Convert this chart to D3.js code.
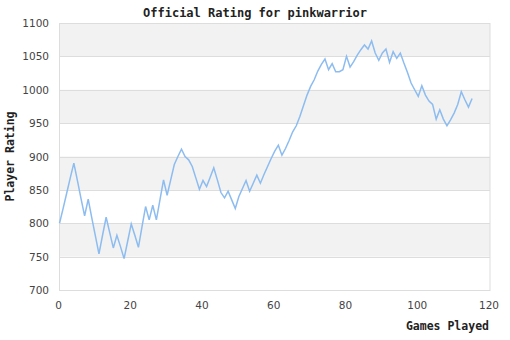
<!DOCTYPE html>
<html>
<head>
<meta charset="utf-8">
<script src="https://cdn.jsdelivr.net/npm/d3@7"></script>
<style>
  body { margin: 0; background: #fff; }
  svg { display: block; }
</style>
</head>
<body>
<div id="chart"></div>
<script>
// rating after each game
var games = d3.range(0, 116);
var ratings = [
  800, 822, 845, 868, 890, 864, 837, 811, 836, 808,
  781, 754, 782, 809, 786, 763, 782, 765, 747, 773,
  799, 782, 764, 795, 825, 805, 827, 805, 835, 865,
  842, 865, 888, 900, 911, 900, 895, 885, 868, 851,
  864, 855, 869, 883, 865, 846, 838, 848, 835, 822,
  840, 852, 864, 848, 860, 872, 860, 873, 885, 897,
  908, 917, 902, 912, 924, 937, 946, 960, 976, 992,
  1005, 1015, 1028, 1038, 1046, 1030, 1039, 1027, 1027, 1030,
  1050, 1034, 1042, 1052, 1060, 1067, 1061, 1073, 1055, 1044,
  1055, 1061, 1041, 1057, 1047, 1055, 1040, 1026, 1010, 1000,
  990, 1006, 992, 983, 978, 956, 970, 956, 946, 955,
  965, 978, 997, 985, 974, 987
];
var xTicks = [0, 20, 40, 60, 80, 100, 120];
var yTicks = [700, 750, 800, 850, 900, 950, 1000, 1050, 1100];

// note: "top" clashes with window.top, so plot edges get their own names
var width = 510, height = 340;
var plotL = 59.5, plotR = 490, plotT = 23, plotB = 290;

var svg = d3.select("#chart").append("svg")
  .attr("width", width)
  .attr("height", height);

var x = d3.scaleLinear().domain([0, 120]).range([plotL, plotR]);
var y = d3.scaleLinear().domain([700, 1100]).range([plotB, plotT]);

// alternating bands, grey on the upper half of each 100
var bands = yTicks.slice(0, -1).filter(d => d % 100 == 50);
svg.selectAll(".band").data(bands).enter().append("rect")
  .attr("class", "band")
  .attr("x", plotL)
  .attr("y", d => y(d + 50))
  .attr("width", plotR - plotL)
  .attr("height", d => y(d) - y(d + 50))
  .attr("fill", "#f2f2f2");

// grid lines
svg.selectAll(".grid").data(yTicks).enter().append("line")
  .attr("class", "grid")
  .attr("x1", plotL).attr("x2", plotR)
  .attr("y1", d => Math.round(y(d)) + 0.5)
  .attr("y2", d => Math.round(y(d)) + 0.5)
  .attr("stroke", "#dddddd");

// frame
svg.append("rect")
  .attr("x", plotL).attr("y", plotT + 0.5)
  .attr("width", plotR - plotL).attr("height", plotB - plotT)
  .attr("fill", "none")
  .attr("stroke", "#dddddd");

// y labels
svg.selectAll(".ylab").data(yTicks).enter().append("text")
  .attr("class", "ylab")
  .attr("x", 49)
  .attr("y", d => y(d) + 4)
  .attr("text-anchor", "end")
  .style("font", "10.5px 'DejaVu Sans'")
  .attr("fill", "#444")
  .text(d => d);

// x labels
svg.selectAll(".xlab").data(xTicks).enter().append("text")
  .attr("class", "xlab")
  .attr("x", d => x(d) - 1)
  .attr("y", 309)
  .attr("text-anchor", "middle")
  .style("font", "10.5px 'DejaVu Sans'")
  .attr("fill", "#444")
  .text(d => d);

// the rating line
var line = d3.line()
  .x((d, i) => x(games[i]))
  .y(d => y(d));

svg.append("path")
  .datum(ratings)
  .attr("d", line)
  .attr("fill", "none")
  .attr("stroke", "#8cbcf0")
  .attr("stroke-width", 1.5);

// titles
svg.append("text")
  .attr("x", 255).attr("y", 17)
  .attr("text-anchor", "middle")
  .style("font", "bold 12px 'DejaVu Sans Mono'")
  .attr("fill", "#222")
  .text("Official Rating for pinkwarrior");

svg.append("text")
  .attr("x", 489).attr("y", 330)
  .attr("text-anchor", "end")
  .style("font", "bold 11.5px 'DejaVu Sans Mono'")
  .attr("fill", "#222")
  .text("Games Played");

svg.append("text")
  .attr("transform", "translate(14," + ((plotT + plotB) / 2) + ") rotate(-90)")
  .attr("text-anchor", "middle")
  .style("font", "bold 11.5px 'DejaVu Sans Mono'")
  .attr("fill", "#222")
  .text("Player Rating");
</script>
</body>
</html>
